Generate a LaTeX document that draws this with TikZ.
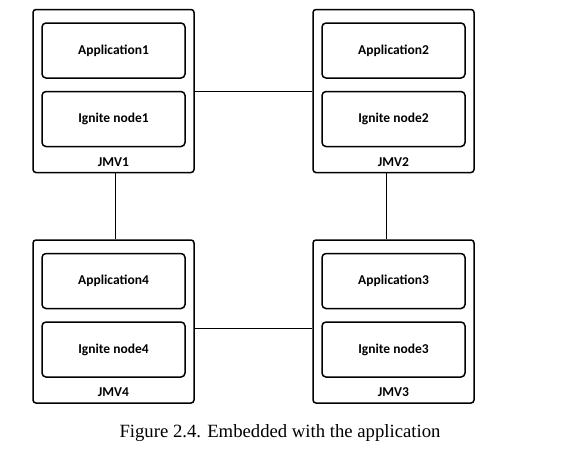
\documentclass[tikz,border=0pt]{standalone}
\usepackage{fontspec}
\setmainfont{Liberation Serif}
\newfontfamily\boxfont{Carlito}
\usepackage{tkz-euclide}
\usepackage{tikz}

\begin{document}
\begin{tikzpicture}[x=1pt, y=-1pt,
    jvmbox/.style={draw, line width=1.5pt, rounded corners=3pt,
        minimum width=161pt, minimum height=163pt},
    partbox/.style={draw, line width=1.5pt, rounded corners=4pt,
        minimum width=143pt, minimum height=55pt,
        font=\boxfont\bfseries\fontsize{13.5}{15}\selectfont},
    jvmlabel/.style={font=\boxfont\bfseries\fontsize{13.5}{15}\selectfont},
    link/.style={line width=1pt}]
        \useasboundingbox (0,0) rectangle (585,455);

        \tkzDefPoint(113.5, 91){J_1}
        \tkzDefPoint(393.5, 91){J_2}
        \tkzDefPoint(393.5, 321.5){J_3}
        \tkzDefPoint(113.5, 321.5){J_4}

        \foreach \i in {1,...,4} {
            \node[jvmbox] (jmv\i) at (J_\i) {};
            \node[partbox] (app\i) at ([yshift=40.5pt]J_\i) {Application\i};
            \node[partbox] (ign\i) at ([yshift=-28pt]J_\i) {Ignite node\i};
            \node[jvmlabel] (lbl\i) at ([yshift=-71pt]J_\i) {JMV\i};
        }

        \draw[link] (jmv1) -- (jmv2);
        \draw[link] ([xshift=1.5pt]jmv1.south) -- ([xshift=1.5pt]jmv4.north);
        \draw[link] ([xshift=-7.5pt]jmv2.south) -- ([xshift=-7.5pt]jmv3.north);
        \draw[link] ([yshift=-6.5pt]jmv4.east) -- ([yshift=-6.5pt]jmv3.west);

        \node[font=\fontsize{18.7}{22}\selectfont] (caption) at (280, 433)
            {Figure 2.4. Embedded with the application};
    \end{tikzpicture}
\end{document}
